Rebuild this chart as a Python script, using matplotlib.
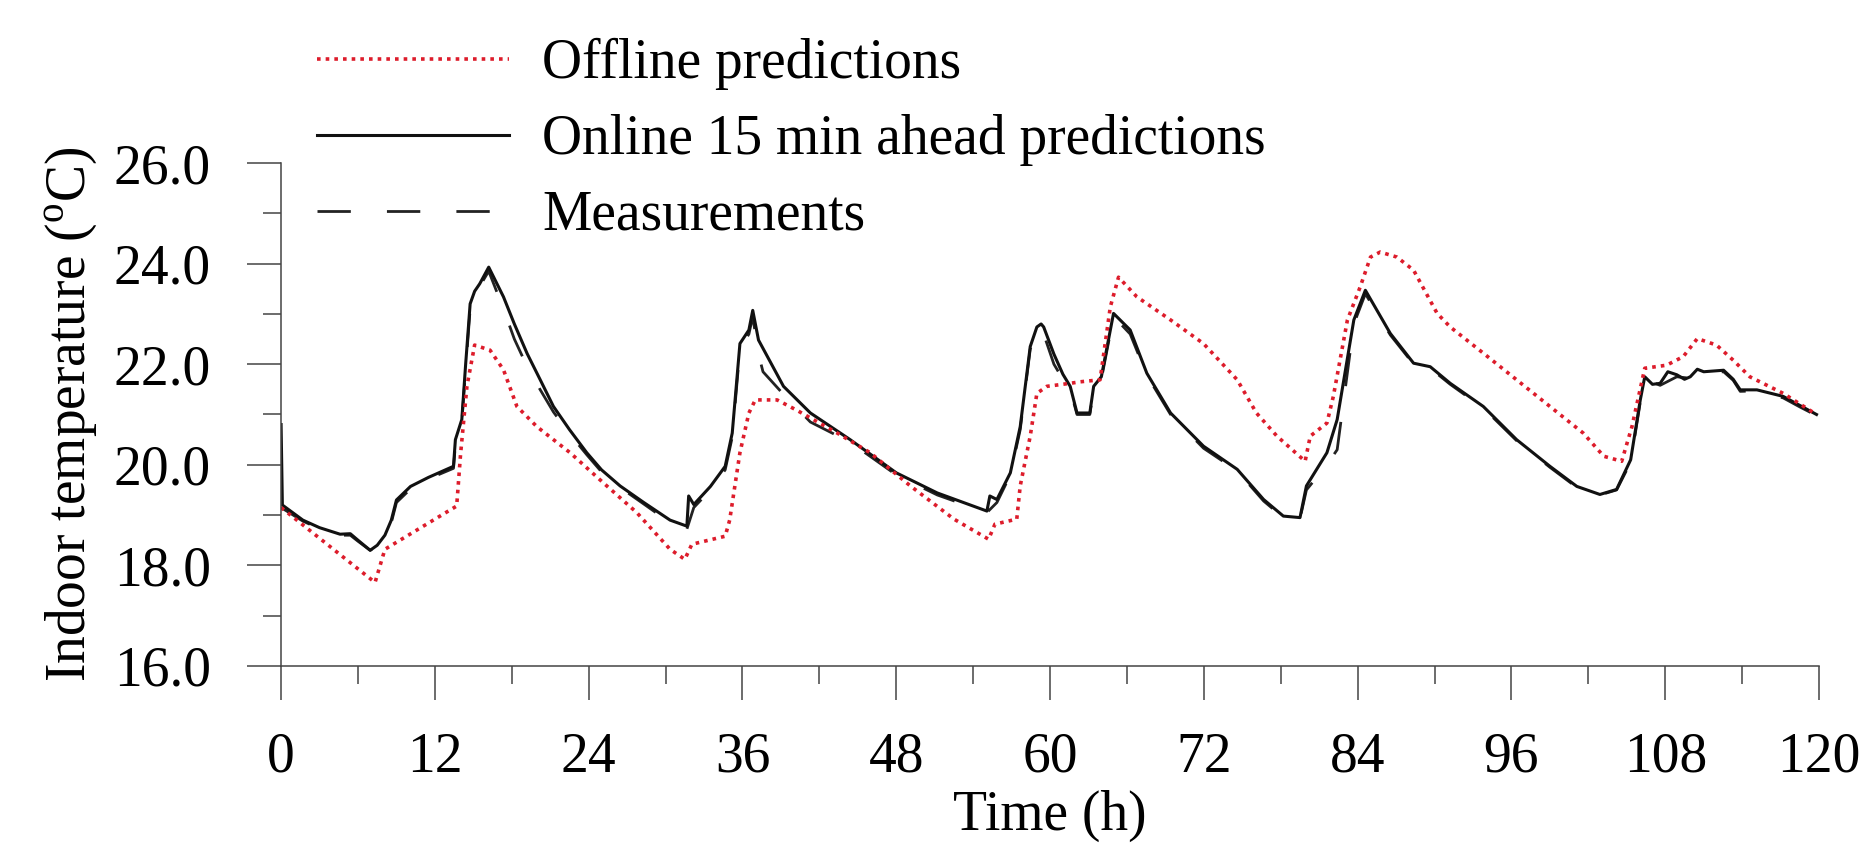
import matplotlib
matplotlib.use('Agg')
import matplotlib.pyplot as plt
from matplotlib.ticker import MultipleLocator, FormatStrFormatter

plt.rcParams['font.family'] = ['Liberation Serif', 'DejaVu Serif']
plt.rcParams['mathtext.fontset'] = 'custom'
plt.rcParams['mathtext.rm'] = 'Liberation Serif'

# Data
t_off = [0.0, 7.33, 8.1, 13.7, 14.0, 14.5, 15.1, 16.3, 17.35, 18.4, 19.95,
         22.55, 25.15, 27.75, 30.35, 31.5, 32.05, 34.65, 35.0, 35.8, 36.5,
         37.0, 38.7, 40.2, 43.4, 45.96, 49.1, 52.5, 55.2, 55.7, 57.4, 57.67,
         58.45, 58.97, 59.75, 61.57, 62.35, 63.9, 64.7, 65.34, 66.77, 69.4,
         71.97, 74.6, 76.1, 77.7, 79.9, 80.3, 81.6, 82.1, 83.2, 84.2, 85.0,
         85.76, 87.06, 88.36, 90.2, 91.22, 93.8, 96.4, 99.0, 101.6, 103.2,
         104.6, 105.4, 106.4, 108.1, 109.4, 110.5, 112.0, 113.3, 114.6,
         117.2, 119.8]
temp_off = [19.15, 17.66, 18.32, 19.18, 20.2, 21.56, 22.38, 22.28, 21.89,
            21.16, 20.76, 20.24, 19.64, 19.05, 18.32, 18.12, 18.42, 18.58,
            18.9, 20.24, 21.03, 21.29, 21.29, 21.09, 20.63, 20.24, 19.58,
            18.92, 18.52, 18.82, 18.92, 19.58, 20.57, 21.42, 21.56, 21.62,
            21.65, 21.69, 23.14, 23.73, 23.34, 22.88, 22.41, 21.69, 21.03,
            20.57, 20.07, 20.57, 20.83, 21.36, 22.88, 23.54, 24.13, 24.23,
            24.13, 23.87, 23.01, 22.74, 22.22, 21.69, 21.16, 20.63, 20.17,
            20.07, 20.76, 21.92, 21.98, 22.15, 22.51, 22.38, 22.08, 21.75,
            21.42, 21.0]

t_on = [0.0, 0.1, 1.7, 3.0, 4.6, 5.4, 6.0, 6.95, 7.5, 8.1, 8.6, 9.0, 10.1,
        11.5, 13.45, 13.6, 14.1, 14.4, 14.75, 15.1, 15.5, 16.2, 17.35, 18.2,
        19.2, 20.2, 21.25, 22.5, 23.85, 25.0, 26.45, 28.3, 30.35, 31.66,
        31.8, 32.2, 33.5, 34.65, 35.2, 35.8, 36.5, 36.8, 37.25, 39.2, 41.3,
        44.4, 48.0, 51.2, 55.07, 55.3, 55.85, 56.9, 57.67, 58.45, 58.97,
        59.3, 59.5, 60.3, 61.0, 61.57, 62.1, 63.1, 63.4, 64.0, 64.95, 66.25,
        67.55, 69.4, 71.97, 74.6, 76.66, 78.2, 79.5, 80.0, 81.6, 82.4, 83.7,
        84.6, 86.55, 88.36, 89.66, 91.22, 93.8, 96.4, 99.0, 101.1, 102.9,
        104.2, 105.3, 106.05, 106.4, 107.0, 107.6, 108.2, 108.9, 109.5,
        109.95, 110.5, 111.0, 112.55, 113.3, 113.85, 115.15, 117.2, 119.8]
temp_on = [20.8, 19.2, 18.9, 18.75, 18.62, 18.63, 18.5, 18.3, 18.4, 18.6,
           18.9, 19.3, 19.57, 19.75, 19.97, 20.5, 20.9, 22.0, 23.2, 23.45,
           23.6, 23.93, 23.34, 22.8, 22.21, 21.7, 21.16, 20.7, 20.24, 19.9,
           19.58, 19.25, 18.9, 18.78, 19.38, 19.21, 19.57, 19.97, 20.63,
           22.41, 22.68, 23.07, 22.48, 21.56, 21.03, 20.5, 19.84, 19.44,
           19.08, 19.38, 19.31, 19.84, 20.76, 22.35, 22.74, 22.8, 22.74, 22.2,
           21.8, 21.56, 21.03, 21.03, 21.56, 21.75, 23.01, 22.68, 21.82,
           21.03, 20.37, 19.91, 19.31, 18.98, 18.95, 19.58, 20.24, 20.9,
           22.88, 23.47, 22.61, 22.02, 21.95, 21.62, 21.16, 20.5, 19.97,
           19.57, 19.41, 19.51, 20.1, 21.29, 21.75, 21.6, 21.62, 21.85,
           21.79, 21.7, 21.75, 21.9, 21.85, 21.88, 21.7, 21.49, 21.49, 21.36,
           21.0]

t_meas = [0.0, 1.7, 3.0, 4.6, 5.4, 6.0, 6.95, 7.5, 8.1, 8.6, 9.0, 10.1, 11.5,
          13.45, 13.6, 14.1, 14.4, 14.75, 15.1, 15.5, 16.2, 17.35, 18.2,
          19.2, 20.2, 21.25, 22.5, 23.85, 25.0, 26.45, 28.3, 30.35, 31.66,
          32.2, 33.5, 34.65, 35.2, 35.8, 36.5, 36.8, 37.25, 37.6, 39.2, 41.3,
          44.4, 48.0, 51.2, 55.07, 55.85, 56.9, 57.67, 58.45, 58.97, 59.3,
          59.5, 60.3, 61.0, 61.57, 62.1, 63.1, 63.4, 64.0, 64.95, 66.25,
          67.55, 69.4, 71.97, 74.6, 76.66, 78.2, 79.5, 80.0, 81.6, 82.4,
          83.7, 84.6, 86.55, 88.36, 89.66, 91.22, 93.8, 96.4, 99.0, 101.1,
          102.9, 104.2, 105.3, 106.05, 106.4, 107.6, 108.9, 109.95, 111.0,
          112.55, 113.3, 113.85, 115.15, 117.2, 118.5, 119.8]
temp_meas = [19.15, 18.88, 18.73, 18.6, 18.6, 18.48, 18.3, 18.38, 18.55,
             18.85, 19.25, 19.52, 19.72, 19.93, 20.4, 20.85, 21.9, 23.1,
             23.4, 23.55, 23.85, 23.1, 22.5, 21.95, 21.5, 21.05, 20.62, 20.2,
             19.86, 19.55, 19.22, 18.85, 18.72, 19.15, 19.5, 19.9, 20.55,
             22.3, 22.6, 22.95, 22.2, 21.85, 21.4, 20.85, 20.45, 19.8, 19.4,
             19.05, 19.25, 19.8, 20.7, 22.3, 22.65, 22.72, 22.6, 22.0, 21.7,
             21.5, 21.0, 21.0, 21.5, 21.7, 22.95, 22.6, 21.78, 21.0, 20.33,
             19.88, 19.28, 18.95, 18.93, 19.5, 20.0, 20.3, 22.8, 23.4, 22.58,
             22.0, 21.92, 21.6, 21.13, 20.48, 19.95, 19.55, 19.4, 19.5,
             20.05, 21.25, 21.7, 21.58, 21.75, 21.72, 21.82, 21.85, 21.68,
             21.46, 21.47, 21.33, 21.15, 20.98]

fig = plt.figure(figsize=(18.64, 8.63), dpi=100)
ax = fig.add_axes([0.1508, 0.2283, 0.8251, 0.5828])

l_meas, = ax.plot(t_meas, temp_meas, color='#222222', lw=2.0,
                  linestyle=(0, (12, 13)), label='Measurements')
l_on, = ax.plot(t_on, temp_on, color='#111111', lw=2.2,
                label='Online 15 min ahead predictions')
l_off, = ax.plot(t_off, temp_off, color='#dd1c2b', lw=2.6,
                 linestyle=(0, (1, 1.4)), label='Offline predictions')

ax.set_xlim(0, 120)
ax.set_ylim(16, 26)
ax.xaxis.set_major_locator(MultipleLocator(12))
ax.xaxis.set_minor_locator(MultipleLocator(6))
ax.yaxis.set_major_locator(MultipleLocator(2))
ax.yaxis.set_minor_locator(MultipleLocator(1))
ax.yaxis.set_major_formatter(FormatStrFormatter('%.1f'))

for side in ['top', 'right']:
    ax.spines[side].set_visible(False)
for side in ['left', 'bottom']:
    ax.spines[side].set_color('#444444')
    ax.spines[side].set_linewidth(1.1)

ax.tick_params(which='major', direction='out', length=24.5, width=1.1,
               color='#444444', labelsize=40)
ax.tick_params(which='minor', direction='out', length=13, width=1.1,
               color='#444444')
ax.tick_params(axis='x', which='major', pad=23)
ax.tick_params(axis='y', which='major', pad=26)

ax.set_xlabel('Time (h)', fontsize=40, labelpad=4)
ax.set_ylabel('Indoor temperature ($^{\\mathrm{o}}$C)', fontsize=40,
              labelpad=10)

ax.legend([l_off, l_on, l_meas],
          ['Offline predictions', 'Online 15 min ahead predictions',
           'Measurements'],
          loc='upper left', bbox_to_anchor=(317 / 1864, 1 - 38 / 863),
          bbox_transform=fig.transFigure, frameon=False, borderpad=0,
          borderaxespad=0, handlelength=3.45, handletextpad=0.6,
          labelspacing=0.43, fontsize=40)

fig.savefig('out.png', dpi=100)
